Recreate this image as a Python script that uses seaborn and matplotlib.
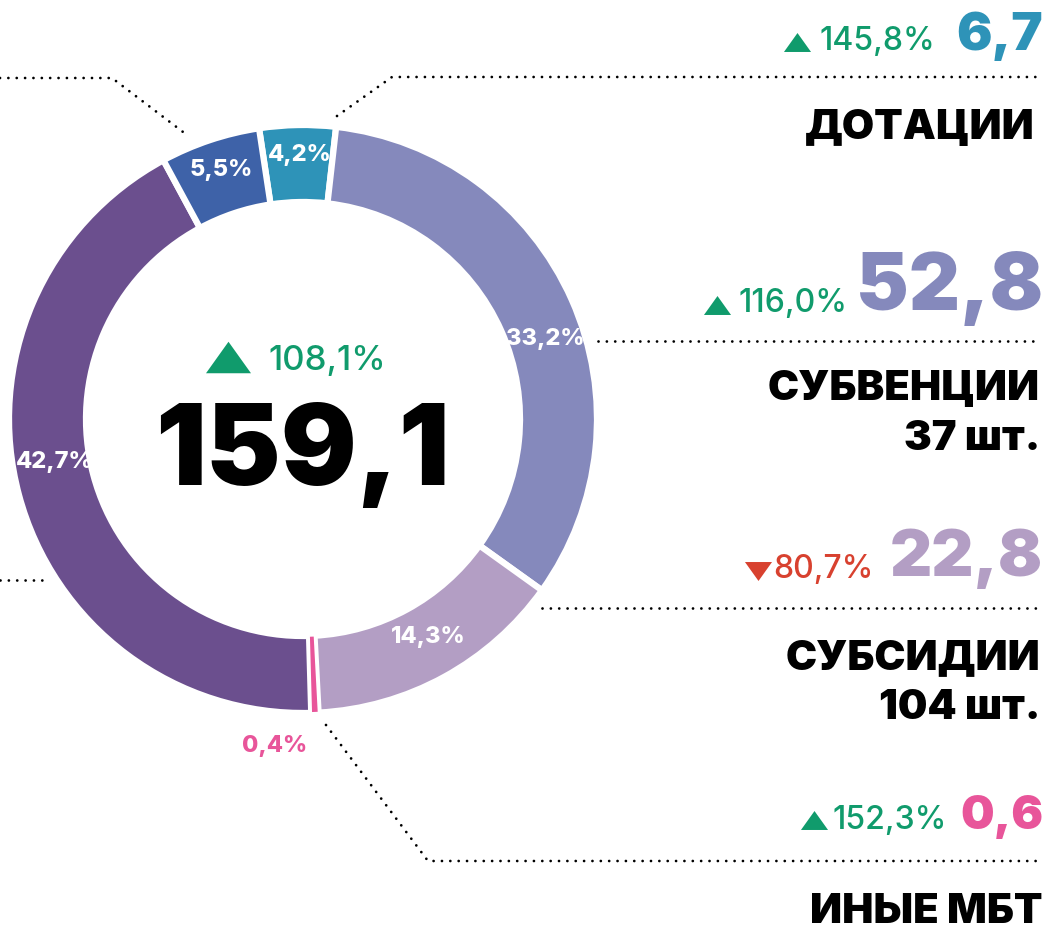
import matplotlib
matplotlib.use("Agg")
import matplotlib.pyplot as plt
import seaborn as sns

sns.set_theme(style="white")
plt.rcParams['font.family'] = ['Inter', 'DejaVu Sans']

# Data (clockwise from top)
categories = ["Дотации", "Субвенции", "Субсидии", "Иные МБТ", "Прочие 1", "Прочие 2"]
shares = [4.2, 33.2, 14.3, 0.4, 42.7, 5.5]
share_labels = ["4,2%", "33,2%", "14,3%", "0,4%", "42,7%", "5,5%"]
colors = ["#2E93B8", "#8589BC", "#B39EC4", "#E8559A", "#6B4F8E", "#3E62A8"]

total_value = "159,1"
total_change = "108,1%"

right_names = ["ДОТАЦИИ", "СУБВЕНЦИИ\n37 шт.", "СУБСИДИИ\n104 шт.", "ИНЫЕ МБТ"]
right_values = ["6,7", "52,8", "22,8", "0,6"]
right_changes = ["145,8%", "116,0%", "80,7%", "152,3%"]
right_up = [True, True, False, True]
right_colors = ["#2E93B8", "#8589BC", "#B39EC4", "#E8559A"]

GREEN = "#109B6C"
RED = "#D8412F"

W, H = 1048, 929
fig = plt.figure(figsize=(W / 100, H / 100), dpi=100)
ax = fig.add_axes([0, 0, 1, 1])

cx, cy, R = 303, 420, 294
wedges, _ = ax.pie(shares, colors=colors, startangle=-98.6, counterclock=True,
                   center=(cx, cy), radius=R,
                   wedgeprops=dict(width=77, edgecolor="white", linewidth=4.5))
# keep the tiny slice visible
wedges[3].set_linewidth(1.2)
wedges[3].set_zorder(5)
ax.set_xlim(0, W)
ax.set_ylim(H, 0)
ax.set_aspect("auto")
ax.axis("off")

# segment labels
seg_pos = [(300, 155), (545, 339), (428, 637), (275, 746), (55, 462), (221, 170)]
for (x, y), lab, i in zip(seg_pos, share_labels, range(6)):
    col = "#E8559A" if i == 3 else "white"
    ax.text(x, y, lab, color=col, fontsize=17, fontweight="heavy",
            ha="center", va="center")

# triangle marker shapes
up_tri = [(-1, -0.7), (1, -0.7), (0, 0.7), (-1, -0.7)]
down_tri = [(-1, 0.7), (1, 0.7), (0, -0.7), (-1, 0.7)]

# center
ax.scatter([228], [358], marker=up_tri, s=1050, color=GREEN, linewidths=0, zorder=6)
ax.text(268, 361, total_change, color=GREEN, fontsize=25, fontweight="medium",
        ha="left", va="center")
ax.text(302, 455, total_value, color="black", fontsize=81, fontweight="black",
        ha="center", va="center")

# leader lines
dot = dict(color="black", linewidth=2.0, linestyle=(0, (0.01, 3.0)),
           dash_capstyle="round", solid_capstyle="round")
ax.plot([337, 392, 1038], [117, 78, 78], **dot)
ax.plot([0, 112, 187], [79, 79, 136], **dot)
ax.plot([598, 1038], [342, 342], **dot)
ax.plot([542, 1038], [609, 609], **dot)
ax.plot([326, 428, 1038], [726, 862, 862], **dot)
ax.plot([0, 45], [581, 581], **dot)

# right labels
val_pos = [(1043, 36, 38), (1043, 288, 57), (1043, 559, 47), (1043, 817, 34)]
chg_pos = [(935, 41), (848, 303), (874, 570), (947, 821)]
tri_pos = [(797, 43), (717, 306), (758, 572), (814, 821)]
name_pos = [(1035, 128), (1040, 414), (1040, 683), (1042, 912)]
for i in range(4):
    x, y, fs = val_pos[i]
    ax.text(x, y, right_values[i], color=right_colors[i], fontsize=fs,
            fontweight="black", ha="right", va="center")
    c = GREEN if right_up[i] else RED
    x, y = chg_pos[i]
    ax.text(x, y, right_changes[i], color=c, fontsize=23, fontweight="medium",
            ha="right", va="center")
    x, y = tri_pos[i]
    ax.scatter([x], [y], marker=up_tri if right_up[i] else down_tri, s=380,
               color=c, linewidths=0, zorder=6)
    x, y = name_pos[i]
    ax.text(x, y, right_names[i], color="black", fontsize=30, fontweight="black",
            ha="right", va="center", linespacing=1.4)

fig.savefig("out.png", dpi=100)
